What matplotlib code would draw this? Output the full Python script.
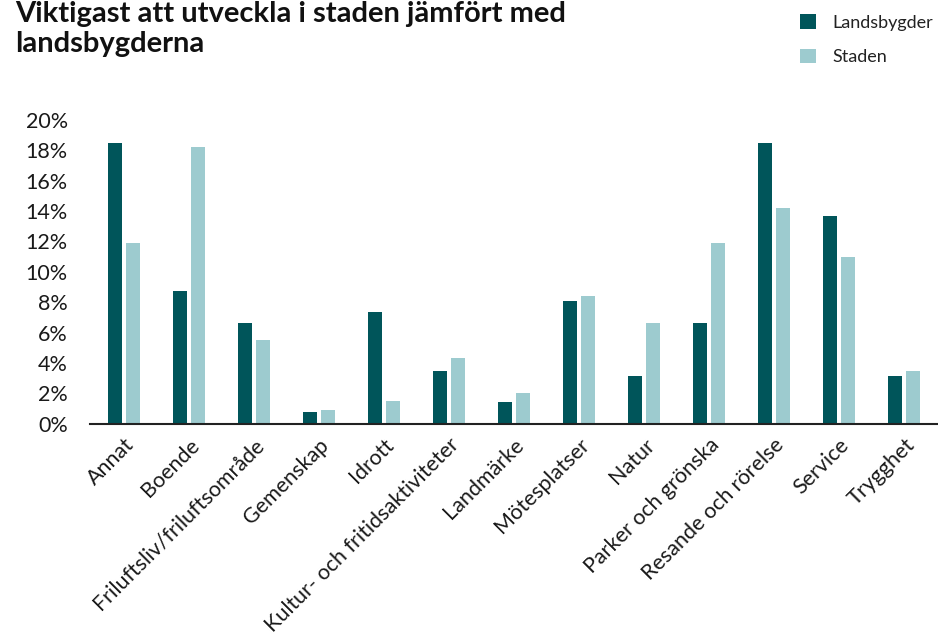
import numpy as np
from matplotlib import pyplot as plt

plt.rcParams['font.family'] = ['Lato', 'DejaVu Sans']

kategorier = ['Annat', 'Boende', 'Friluftsliv/friluftsområde', 'Gemenskap', 'Idrott',
              'Kultur- och fritidsaktiviteter', 'Landmärke', 'Mötesplatser', 'Natur',
              'Parker och grönska', 'Resande och rörelse', 'Service', 'Trygghet']
landsbygder = [18.5, 8.75, 6.6, 0.8, 7.35, 3.5, 1.4, 8.05, 3.15, 6.6, 18.5, 13.65, 3.15]
staden = [11.9, 18.2, 5.5, 0.9, 1.5, 4.35, 2.05, 8.4, 6.6, 11.9, 14.2, 11.0, 3.5]

mork = '#00555a'
ljus = '#9dcbcf'

fig = plt.figure(figsize=(9.38, 6.44), dpi=100)
ax = fig.add_axes([0.096, 0.342, 0.904, 0.472])

x = np.arange(len(kategorier))
w = 0.22
ax.bar(x - w / 2 - 0.03, landsbygder, width=w, color=mork, label='Landsbygder')
ax.bar(x + w / 2 + 0.03, staden, width=w, color=ljus, label='Staden')

ax.set_xlim(-0.52, len(kategorier) - 0.48)
ax.set_ylim(0, 20)
ax.set_yticks(range(0, 21, 2))
ax.set_yticklabels([f'{v}%' for v in range(0, 21, 2)], fontsize=15.5, color='#1a1a1a')
ax.set_xticks(x)
ax.set_xticklabels(kategorier, rotation=45, ha='right', rotation_mode='anchor',
                   fontsize=15.5, color='#1a1a1a')
ax.tick_params(axis='y', length=0, pad=16)
ax.tick_params(axis='x', length=0, pad=8)
for s in ['top', 'right', 'left']:
    ax.spines[s].set_visible(False)
ax.spines['bottom'].set_color('#222222')
ax.spines['bottom'].set_linewidth(1.5)

fig.text(0.016, 0.998, 'Viktigast att utveckla i staden jämfört med\nlandsbygderna',
         fontsize=21, fontweight='bold', va='top', ha='left', linespacing=1.2,
         color='#111111')

fig.legend(loc='upper left', bbox_to_anchor=(0.836, 1.003), frameon=False, fontsize=13,
           handlelength=0.85, handleheight=0.85, labelspacing=1.0, handletextpad=0.9,
           labelcolor='#222222')

fig.savefig('out.png', dpi=100)
